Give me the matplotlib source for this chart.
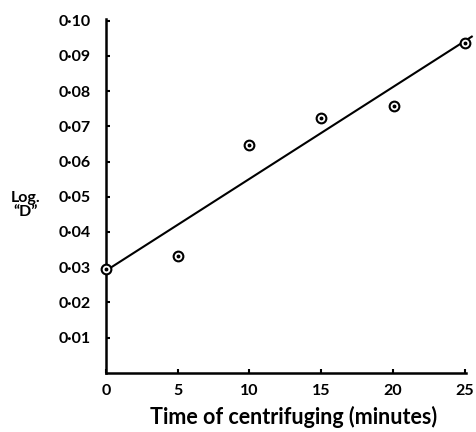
import matplotlib
matplotlib.use("Agg")
import matplotlib.pyplot as plt

# --- Data ---
time_min = [0, 5, 10, 15, 20.1, 25.0]
log_d = [0.0294, 0.0333, 0.0647, 0.0723, 0.0757, 0.0938]

# fitted straight line (end points)
fit_x = [0, 25.5]
fit_y = [0.029, 0.0955]

x_ticks = [0, 5, 10, 15, 20, 25]
x_labels = ["0", "5", "10", "15", "20", "25"]
y_ticks = [0.01, 0.02, 0.03, 0.04, 0.05, 0.06, 0.07, 0.08, 0.09, 0.10]
y_labels = ["0\u00b701", "0\u00b702", "0\u00b703", "0\u00b704", "0\u00b705",
            "0\u00b706", "0\u00b707", "0\u00b708", "0\u00b709", "0\u00b710"]

plt.rcParams['font.family'] = ['Lato', 'DejaVu Sans']
plt.rcParams['font.weight'] = 'bold'

fig = plt.figure(figsize=(4.77, 4.32), dpi=100, facecolor='white')
ax = fig.add_axes([0.222, 0.137, 0.755, 0.819])

ax.plot(fit_x, fit_y, color='black', lw=1.5, clip_on=False, zorder=2)
ax.plot(time_min, log_d, ls='none', marker='o', ms=7, mfc='white',
        mec='black', mew=1.5, clip_on=False, zorder=3)
ax.plot(time_min, log_d, ls='none', marker='o', ms=1.8, color='black',
        clip_on=False, zorder=4)

ax.set_xlim(0, 25.1)
ax.set_ylim(0, 0.1005)

for side in ['top', 'right']:
    ax.spines[side].set_visible(False)
for side in ['left', 'bottom']:
    ax.spines[side].set_linewidth(1.8)

ax.set_xticks(x_ticks)
ax.set_xticklabels(x_labels)
ax.set_yticks(y_ticks)
ax.set_yticklabels(y_labels)
ax.tick_params(axis='both', direction='in', length=3, width=1.5,
               labelsize=11.5)
ax.tick_params(axis='y', pad=11)
ax.tick_params(axis='x', pad=8)

ax.set_xlabel("Time of centrifuging (minutes)", fontsize=15.5,
              fontweight='bold')
ax.xaxis.set_label_coords(0.522, -0.093)

fig.text(0.054, 0.525, "Log.\n\u201cD\u201d", ha='center', va='center',
         fontsize=11.5, fontweight='bold', linespacing=1.05)

fig.savefig("out.png", dpi=100, facecolor='white')
